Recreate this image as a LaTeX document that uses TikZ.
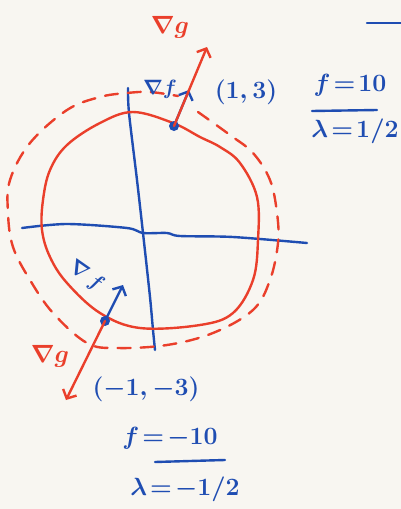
\documentclass[tikz,border=0pt]{standalone}
\usepackage{amsmath,amssymb}
\usepackage{xcolor}
\usepackage{tikz}
\usetikzlibrary{arrows.meta, positioning, calc}

\definecolor{inkred}{HTML}{EA3F2B}
\definecolor{inkblue}{HTML}{1F4DB2}
\definecolor{paper}{HTML}{F8F6F1}

\begin{document}
\begin{tikzpicture}[
  x=1pt, y=-1pt,
  redpen/.style={draw=inkred, line width=2.4pt, line cap=round, line join=round},
  bluepen/.style={draw=inkblue, line width=2.4pt, line cap=round, line join=round},
  pendash/.style={dash pattern=on 13pt off 10pt},
  tip/.style={-{Straight Barb[length=7pt, width=15pt, line width=2.4pt]}},
  dot/.style={circle, fill=inkblue, minimum size=10pt, inner sep=0pt},
  redlabel/.style={text=inkred, font=\fontsize{28}{30}\selectfont\boldmath, inner sep=1pt},
  bluelabel/.style={text=inkblue, font=\fontsize{32}{34}\selectfont\boldmath, inner sep=1pt},
  lamlabel/.style={text=inkblue, font=\fontsize{27}{29}\selectfont\boldmath, inner sep=1pt},
  smalllabel/.style={text=inkblue, font=\fontsize{20}{22}\selectfont\boldmath, inner sep=1pt}
]

% Paper
\fill[paper] (0,0) rectangle (401,509);
\useasboundingbox (0,0) rectangle (401,509);

% Axes
\draw[bluepen] plot[smooth, tension=0.5] coordinates {(128,88) (129,113) (137,180) (143,233) (150,297) (153,330) (155,350)};
\draw[bluepen] plot[smooth, tension=0.5] coordinates {(22,228) (67,224) (127,228) (143,233) (167,233) (180,236) (233,237) (307,243)};
\draw[bluepen] (367,23) -- (401,23);

% Constraint circle
\draw[redpen] plot[smooth cycle, tension=0.6] coordinates {(133,112) (100,123) (67,145) (50,170) (43,200) (42,230) (50,257) (67,283) (100,313) (140,328) (200,325) (233,313) (253,280) (258,240) (257,197) (240,163) (220,147) (200,137) (173,123)};

% Dashed level curve
\draw[redpen, pendash] plot[smooth, tension=0.6] coordinates {(198,112) (230,135) (253,153) (270,180) (277,213) (278,243) (270,280) (253,310) (213,333) (167,345) (117,348) (87,343) (53,313) (30,280) (13,247) (8,213) (10,180) (30,143) (67,110) (100,97) (127,93) (150,92) (178,96)};

% Points
\node[dot] (top) at (174,126) {};
\node[dot] (bot) at (105,321) {};
\coordinate (ftop) at (189,90);
\coordinate (gtop) at (207,47);
\coordinate (fbot) at (123,285);
\coordinate (gbot) at (66,400);

% Gradients
\draw[bluepen, tip] (top.center) -- (ftop);
\draw[redpen, tip] (top.center) -- (gtop);
\draw[bluepen, tip] (bot.center) -- (fbot);
\draw[redpen, tip] (bot.center) -- (gbot);

% Labels at (1,3)
\node[redlabel] (gradg1) at (170,27) {$\nabla g$};
\node[smalllabel] (gradf1) at (160,89) {$\nabla f$};
\node[bluelabel] (pt1) at (246,92) {$(1,3)$};
\node[bluelabel] (fval1) at (350,85) {$f\!=\!10$};
\node[lamlabel] (lam1) at (355,131) {$\lambda\!=\!1/2$};
\coordinate (bar1a) at (312,111);
\coordinate (bar1b) at (377,110);
\draw[bluepen] (bar1a) -- (bar1b);

% Labels at (-1,-3)
\node[smalllabel, rotate=-35] (gradf2) at (86,276) {$\nabla\,f$};
\node[redlabel] (gradg2) at (50,356) {$\nabla g$};
\node[bluelabel] (pt2) at (146,389) {$(-1,-3)$};
\node[bluelabel] (fval2) at (170,438) {$f\!=\!-10$};
\node[lamlabel] (lam2) at (185,489) {$\lambda\!=\!-1/2$};
\coordinate (bar2a) at (155,462);
\coordinate (bar2b) at (225,460);
\draw[bluepen] (bar2a) -- (bar2b);

\end{tikzpicture}
\end{document}
